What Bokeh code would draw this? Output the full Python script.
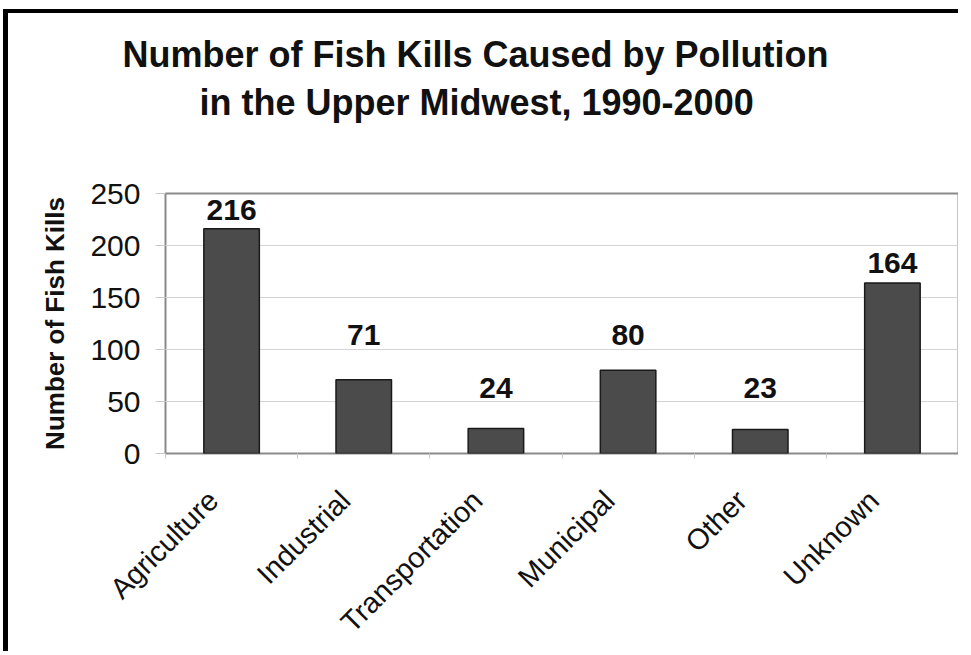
from bokeh.plotting import figure
from bokeh.models import Title, ColumnDataSource, LinearAxis, Range1d, FixedTicker
from bokeh.core.properties import value
from bokeh.embed import file_html
from bokeh.resources import INLINE
import math

categories = ["Agriculture", "Industrial", "Transportation", "Municipal", "Other", "Unknown"]
fish_kills = [216, 71, 24, 80, 23, 164]
label_y = [234, 114, 63, 114, 63, 183]
y_ticks = [0, 50, 100, 150, 200, 250]

title_line1 = "Number of Fish Kills Caused by Pollution"
title_line2 = "in the Upper Midwest, 1990-2000"
y_label = "Number of Fish Kills"

FONT = "Liberation Sans"
INK = "#111111"

n = len(categories)
x_pos = [i + 0.5 for i in range(n)]   # centre of each category slot

src = ColumnDataSource(dict(
    x=x_pos,
    cat=categories,
    val=fish_kills,
    ly=label_y,
    txt=[str(v) for v in fish_kills],
))

p = figure(
    x_range=Range1d(0, n), y_range=Range1d(0, 250),
    width=955, height=642, title=None, x_axis_location=None,
    output_backend="svg", toolbar_location=None,
    min_border_left=157, min_border_right=5,
    min_border_top=180, min_border_bottom=202,
    styles={"border-left": "5px solid black", "border-top": "4px solid black",
            "margin-left": "3px", "margin-top": "9px"},
)

# titles: stacked upward from the frame (spacer, line 2, line 1)
p.add_layout(Title(text=" ", text_font_size="1px", standoff=68), "above")
p.add_layout(Title(text=title_line2, align="left", offset=34, standoff=0,
                   text_font=FONT, text_font_size="36px", text_font_style="bold",
                   text_color=INK), "above")
p.add_layout(Title(text=title_line1, align="left", offset=-43, standoff=9,
                   text_font=FONT, text_font_size="36px", text_font_style="bold",
                   text_color=INK), "above")

p.vbar(x="x", top="val", width=0.42, source=src,
       fill_color="#4b4b4b", line_color="#1a1a1a", line_width=1.5)

p.text(x="x", y="ly", text="txt", source=src,
       text_align="center", text_baseline="middle",
       text_font=value(FONT), text_font_size="30px", text_font_style="bold",
       text_color=INK)

# category axis (slightly shifted so rotated labels end left of the bar centre)
shift = 0.14
p.extra_x_ranges = {"lab": Range1d(start=shift, end=n + shift)}
boundaries = [i + shift for i in range(n + 1)]
xax = LinearAxis(x_range_name="lab",
                 ticker=FixedTicker(ticks=x_pos, minor_ticks=boundaries),
                 major_label_overrides={t: c for t, c in zip(x_pos, categories)},
                 major_label_orientation=math.pi / 4,
                 major_label_standoff=37,
                 major_label_text_font=FONT,
                 major_label_text_font_size="29px",
                 major_label_text_color=INK,
                 axis_line_color=None,
                 major_tick_line_color=None,
                 major_tick_out=5, major_tick_in=0,
                 minor_tick_line_color="#c8c8c8",
                 minor_tick_out=5, minor_tick_in=0)
p.add_layout(xax, "below")

p.outline_line_color = "#8a8a8a"
p.outline_line_width = 2
p.background_fill_color = "white"
p.border_fill_color = "white"

p.xgrid.grid_line_color = None
p.ygrid.grid_line_color = "#d4d4d4"
p.ygrid.grid_line_width = 1
p.yaxis.ticker = y_ticks

p.yaxis.axis_line_color = None
p.yaxis.major_tick_line_color = "#c8c8c8"
p.yaxis.major_tick_out = 10
p.yaxis.major_tick_in = 0
p.yaxis.minor_tick_line_color = None
p.yaxis.major_label_standoff = 15
p.yaxis.major_label_text_font = FONT
p.yaxis.major_label_text_font_size = "30px"
p.yaxis.major_label_text_color = INK
p.yaxis.axis_label = y_label
p.yaxis.axis_label_text_font = FONT
p.yaxis.axis_label_text_font_size = "26px"
p.yaxis.axis_label_text_font_style = "bold"
p.yaxis.axis_label_text_color = INK
p.yaxis.axis_label_standoff = 17

open("out.html", "w").write(file_html(p, INLINE))
